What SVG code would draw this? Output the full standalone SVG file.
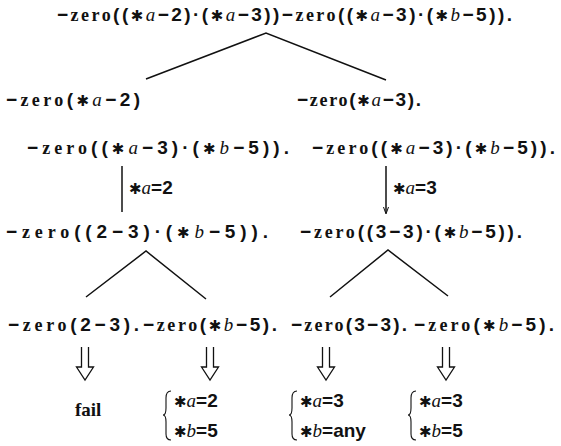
<svg xmlns="http://www.w3.org/2000/svg" width="561" height="446" viewBox="0 0 561 446">
<style>
text{font-family:"Liberation Sans",Arial,sans-serif;font-size:19px;font-weight:bold;fill:#111}
.z{font-family:"Liberation Serif","Times New Roman",serif;font-weight:bold;font-size:18px}
.v{font-family:"Liberation Serif","Times New Roman",serif;font-style:italic;font-weight:normal}
.s{font-family:"DejaVu Sans",sans-serif;font-size:15px}
.ln{stroke:#111;stroke-width:1.5;fill:none}
.dbl{stroke:#111;stroke-width:1.3;fill:none}
</style>
<defs>
<path id="darr" class="dbl" d="M-3.5,0 V20 H-8.5 L0,33 L8.5,20 H3.5 V0"/>
</defs>

<g id="connectors">
<polyline class="ln" points="146,79 266,33 386,80"/>
<line class="ln" x1="122" y1="166" x2="122" y2="212"/>
<line class="ln" x1="386" y1="166" x2="386" y2="213"/>
<path d="M383.5,207 L386,214 L388.5,207" fill="none" stroke="#111" stroke-width="1"/>
<polyline class="ln" points="86,297 146,251 206,299"/>
<polyline class="ln" points="330,297 388,250 448,296"/>
<use href="#darr" x="85" y="347"/>
<use href="#darr" x="210" y="347"/>
<use href="#darr" x="326" y="347"/>
<use href="#darr" x="446" y="347"/>
</g>

<g id="n1"><text x="57" y="21" textLength="455" lengthAdjust="spacing">−<tspan class="z">zero</tspan>((<tspan class="s">✱</tspan><tspan class="v">a</tspan>−2)·(<tspan class="s">✱</tspan><tspan class="v">a</tspan>−3))−<tspan class="z">zero</tspan>((<tspan class="s">✱</tspan><tspan class="v">a</tspan>−3)·(<tspan class="s">✱</tspan><tspan class="v">b</tspan>−5)).</text></g>

<g id="n2"><text x="6" y="106" textLength="134" lengthAdjust="spacing">−<tspan class="z">zero</tspan>(<tspan class="s">✱</tspan><tspan class="v">a</tspan>−2)</text></g>
<g id="n3"><text x="297" y="106" textLength="124" lengthAdjust="spacing">−<tspan class="z">zero</tspan>(<tspan class="s">✱</tspan><tspan class="v">a</tspan>−3).</text></g>

<g id="n4"><text x="27" y="154" textLength="262" lengthAdjust="spacing">−<tspan class="z">zero</tspan>((<tspan class="s">✱</tspan><tspan class="v">a</tspan>−3)·(<tspan class="s">✱</tspan><tspan class="v">b</tspan>−5)).</text></g>
<g id="n5"><text x="312" y="154" textLength="243" lengthAdjust="spacing">−<tspan class="z">zero</tspan>((<tspan class="s">✱</tspan><tspan class="v">a</tspan>−3)·(<tspan class="s">✱</tspan><tspan class="v">b</tspan>−5)).</text></g>

<g id="lab1"><text x="129" y="194"><tspan class="s">✱</tspan><tspan class="v">a</tspan>=2</text></g>
<g id="lab2"><text x="393" y="194"><tspan class="s">✱</tspan><tspan class="v">a</tspan>=3</text></g>

<g id="n6"><text x="6" y="238" textLength="262" lengthAdjust="spacing">−<tspan class="z">zero</tspan>((2−3)·(<tspan class="s">✱</tspan><tspan class="v">b</tspan>−5)).</text></g>
<g id="n7"><text x="300" y="238" textLength="222" lengthAdjust="spacing">−<tspan class="z">zero</tspan>((3−3)·(<tspan class="s">✱</tspan><tspan class="v">b</tspan>−5)).</text></g>

<g id="n8"><text x="8" y="331" textLength="131" lengthAdjust="spacing">−<tspan class="z">zero</tspan>(2−3).</text></g>
<g id="n9"><text x="143" y="331" textLength="134" lengthAdjust="spacing">−<tspan class="z">zero</tspan>(<tspan class="s">✱</tspan><tspan class="v">b</tspan>−5).</text></g>
<g id="n10"><text x="291" y="331" textLength="116" lengthAdjust="spacing">−<tspan class="z">zero</tspan>(3−3).</text></g>
<g id="n11"><text x="414" y="331" textLength="140" lengthAdjust="spacing">−<tspan class="z">zero</tspan>(<tspan class="s">✱</tspan><tspan class="v">b</tspan>−5).</text></g>

<g id="r1"><text x="75" y="416" class="z" style="font-size:19px;font-weight:bold">fail</text></g>
<g id="r2">
<path class="dbl" style="stroke-width:1.1" d="M171,391 Q166,391 166,398 V408 Q166,415 163,415 Q166,415 166,422 V434 Q166,440 171,440"/>
<text x="174" y="407"><tspan class="s">✱</tspan><tspan class="v">a</tspan>=2</text>
<text x="174" y="437"><tspan class="s">✱</tspan><tspan class="v">b</tspan>=5</text>
</g>
<g id="r3">
<path class="dbl" style="stroke-width:1.1" d="M297,391 Q292,391 292,398 V408 Q292,415 289,415 Q292,415 292,422 V434 Q292,440 297,440"/>
<text x="300" y="407"><tspan class="s">✱</tspan><tspan class="v">a</tspan>=3</text>
<text x="300" y="437"><tspan class="s">✱</tspan><tspan class="v">b</tspan>=any</text>
</g>
<g id="r4">
<path class="dbl" style="stroke-width:1.1" d="M416,391 Q411,391 411,398 V408 Q411,415 408,415 Q411,415 411,422 V434 Q411,440 416,440"/>
<text x="419" y="407"><tspan class="s">✱</tspan><tspan class="v">a</tspan>=3</text>
<text x="419" y="437"><tspan class="s">✱</tspan><tspan class="v">b</tspan>=5</text>
</g>
</svg>
